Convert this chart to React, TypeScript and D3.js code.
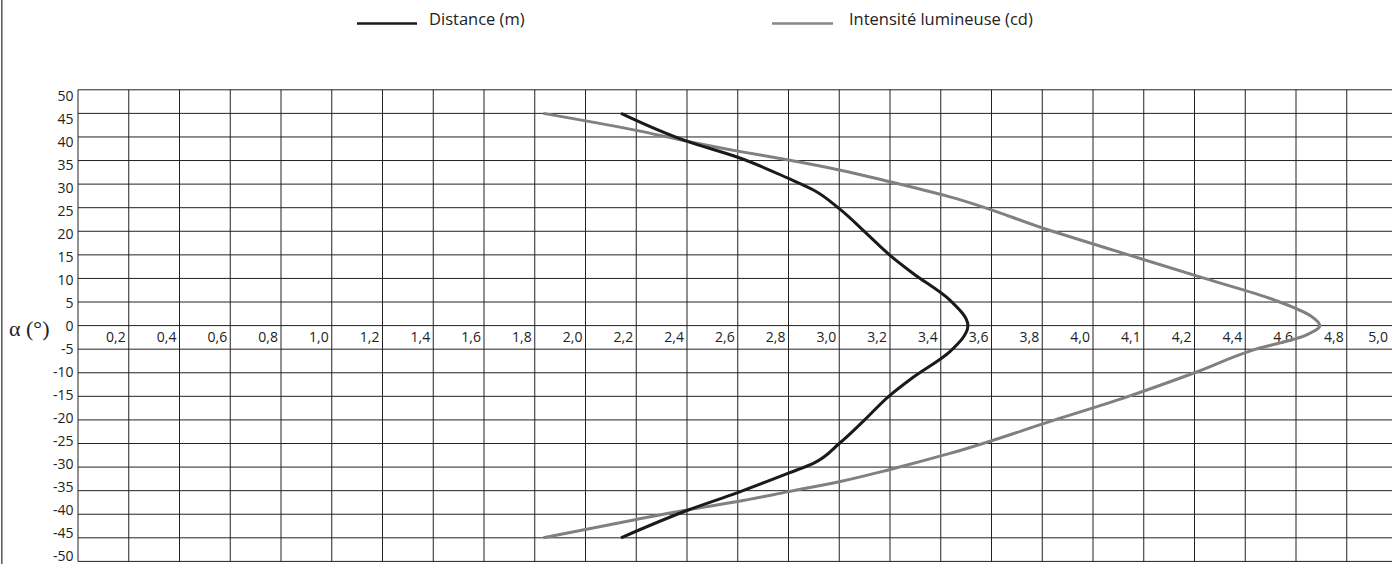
import React from 'react';
import * as d3 from 'd3';

// tick labels as printed on the chart (x labels are not a regular sequence)
const xTickLabels = ['0,2', '0,4', '0,6', '0,8', '1,0', '1,2', '1,4', '1,6', '1,8', '2,0', '2,2', '2,4', '2,6',
  '2,8', '3,0', '3,2', '3,4', '3,6', '3,8', '4,0', '4,1', '4,2', '4,4', '4,6', '4,8', '5,0'];
const yTickLabels = [50, 45, 40, 35, 30, 25, 20, 15, 10, 5, 0, -5, -10, -15, -20, -25, -30, -35, -40, -45, -50];

// Distance (m) : angle -> value
const distAlpha = [45, 39, 35.7, 31.2, 28.7, 24.8, 19.5, 14.9, 11.1, 5.4, 0, -5.5, -11, -15, -20, -25, -29.2, -31.3, -35.4, -39.1, -45];
const distValue = [2.14, 2.405, 2.6, 2.8, 2.9, 3.0, 3.108, 3.2, 3.29, 3.436, 3.507, 3.436, 3.29, 3.195, 3.1, 3.0, 2.898, 2.8, 2.6, 2.405, 2.14];

// Intensité lumineuse (cd)
const lumAlpha = [45, 41.4, 39.1, 37, 35.1, 33, 30.5, 27.3, 20, 15, 10, 5.4, 2, 0, -2, -5.2, -10, -15, -20, -27.1, -30.5, -33.1, -35.2, -37.3, -39.1, -41.1, -45];
const lumValue = [1.834, 2.2, 2.4, 2.6, 2.8, 3.0, 3.2, 3.436, 3.84, 4.14, 4.44, 4.716, 4.86, 4.894, 4.84, 4.63, 4.40, 4.14, 3.85, 3.436, 3.2, 3.0, 2.8, 2.6, 2.4, 2.2, 1.834];

const W = 1392, H = 564;

export default function App() {
  const x = d3.scaleLinear().domain([0, 5.2]).range([78, 78 + 26 * 50.75]);
  const y = d3.scaleLinear().domain([-50, 50]).range([561.4, 89.8]);
  // the printed y labels drift a bit from the grid lines
  const yLab = d3.scaleLinear().domain([50, -50]).range([96.7, 556.5]);

  const xTicks = xTickLabels.map((l, i) => ({ label: l, v: (i + 1) * 0.2 }));

  const line = d3.line<[number, number]>()
    .x(d => x(d[0]))
    .y(d => y(d[1]))
    .curve(d3.curveMonotoneY);

  const distPath = line(d3.zip(distValue, distAlpha) as [number, number][]) || '';
  const lumPath = line(d3.zip(lumValue, lumAlpha) as [number, number][]) || '';

  const font = '"Open Sans", sans-serif';

  return (
    <svg width={W} height={H} style={{ position: 'absolute', left: 0, top: 0, background: '#fff' }}>
      {/* frame left edge */}
      <line x1={1.8} x2={1.8} y1={0} y2={H} stroke="#555" strokeWidth={1.5} />

      {/* legend */}
      <line x1={357} x2={417} y1={23.5} y2={23.5} stroke="#1a1a1a" strokeWidth={2.5} />
      <text x={429} y={25} fontFamily={font} fontSize={16.5} fill="#222">Distance (m)</text>
      <line x1={772} x2={833} y1={23.5} y2={23.5} stroke="#888" strokeWidth={2.5} />
      <text x={849} y={25} fontFamily={font} fontSize={16.5} fill="#222">Intensité lumineuse (cd)</text>

      {/* grid */}
      <g stroke="#222" strokeWidth={1}>
        {yTickLabels.map(t => (
          <line key={'h' + t} x1={x(0)} x2={W} y1={y(t)} y2={y(t)} />
        ))}
        <line x1={x(0)} x2={x(0)} y1={y(50)} y2={y(-50)} />
        {xTicks.map(t => (
          <line key={'v' + t.label} x1={x(t.v)} x2={x(t.v)} y1={y(50)} y2={y(-50)} />
        ))}
      </g>

      {/* y labels */}
      <g fontFamily={font} fontSize={14} fill="#222" textAnchor="end">
        {yTickLabels.map(t => (
          <text key={'yl' + t} x={73.5} y={yLab(t)} dy="0.33em">{t}</text>
        ))}
      </g>
      <text x={9} y={336} fontFamily='"Liberation Serif", "DejaVu Serif", serif' fontSize={22} fill="#222">α (°)</text>

      {/* x labels */}
      <g fontFamily={font} fontSize={14} fill="#222" textAnchor="end">
        {xTicks.map(t => (
          <text key={'xl' + t.label} x={Math.min(x(t.v) - 3, W - 4)} y={342}>{t.label}</text>
        ))}
      </g>

      {/* curves */}
      <path d={lumPath} fill="none" stroke="#808080" strokeWidth={3} />
      <path d={distPath} fill="none" stroke="#1a1a1a" strokeWidth={3} />
    </svg>
  );
}
